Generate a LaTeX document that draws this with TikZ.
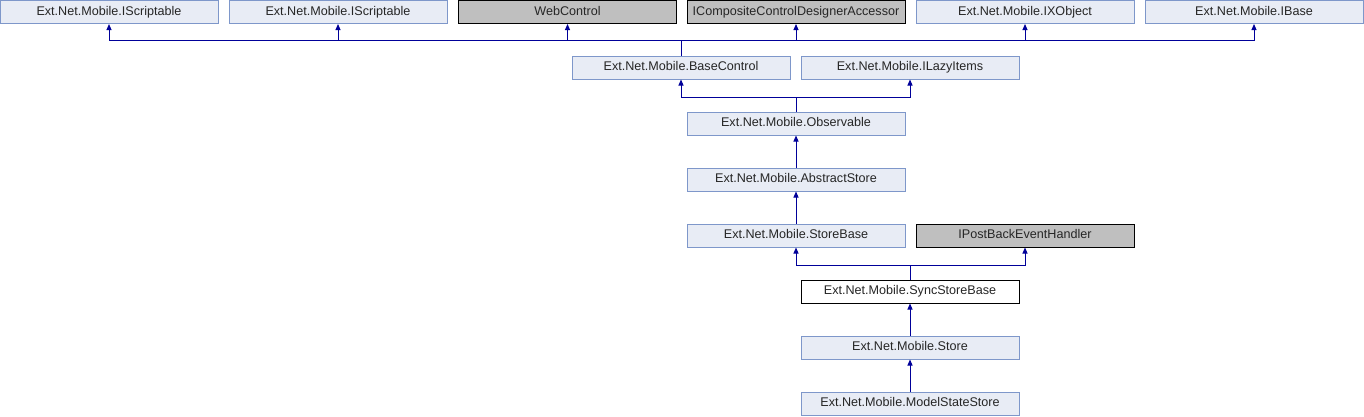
\documentclass[tikz,border=0pt]{standalone}
\usepackage{fontspec}
\setmainfont{Liberation Sans}
\usetikzlibrary{arrows.meta}
\definecolor{boxfill}{HTML}{E8ECF5}
\definecolor{boxedge}{HTML}{7E97CA}
\definecolor{grayfill}{HTML}{BFBFBF}
\definecolor{arrowcol}{HTML}{000099}
\begin{document}
\begin{tikzpicture}[x=1pt,y=-1pt,
  cls/.style={draw=boxedge,fill=boxfill,line width=1pt,minimum width=218pt,minimum height=23pt,inner sep=0pt,text height=9pt,text depth=2.5pt,font=\fontsize{12.6}{14}\selectfont,text=black!85},
  ext/.style={cls,draw=black,fill=grayfill},
  cur/.style={cls,draw=black,fill=white},
  conn/.style={draw=arrowcol,line width=1pt},
  arr/.style={conn,-{Triangle[length=6pt,width=5pt]}}]
\useasboundingbox (0,0) rectangle (1364,416);
% top row
\node[cls] (s1) at (109,12) {Ext.Net.Mobile.IScriptable};
\node[cls] (s2) at (338,12) {Ext.Net.Mobile.IScriptable};
\node[ext] (wc) at (567.5,12) {WebControl};
\node[ext] (icc) at (796,12) {ICompositeControlDesignerAccessor};
\node[cls] (ixo) at (1025,12) {Ext.Net.Mobile.IXObject};
\node[cls] (ib) at (1254,12) {Ext.Net.Mobile.IBase};
% second row
\node[cls] (bc) at (681,67.5) {Ext.Net.Mobile.BaseControl};
\node[cls] (li) at (910,67.5) {Ext.Net.Mobile.ILazyItems};
\node[cls] (obs) at (796,123.5) {Ext.Net.Mobile.Observable};
\node[cls] (abs) at (796,179.5) {Ext.Net.Mobile.AbstractStore};
\node[cls] (sb) at (796,235.5) {Ext.Net.Mobile.StoreBase};
\node[ext] (pb) at (1025,235.5) {IPostBackEventHandler};
\node[cur] (ssb) at (910,291.5) {Ext.Net.Mobile.SyncStoreBase};
\node[cls] (st) at (910,347.5) {Ext.Net.Mobile.Store};
\node[cls] (mss) at (910,403.5) {Ext.Net.Mobile.ModelStateStore};
% junctions
\coordinate (j1) at (681,40);
\coordinate (j2) at (796,97);
\coordinate (j3) at (910,265);
% connectors
\draw[conn] (bc.north) -- (j1);
\foreach \p in {s1,s2,wc,icc,ixo,ib} \draw[arr] (j1) -| (\p.south);
\draw[conn] (obs.north) -- (j2);
\draw[arr] (j2) -| (bc.south);
\draw[arr] (j2) -| (li.south);
\draw[arr] (abs.north) -- (obs.south);
\draw[arr] (sb.north) -- (abs.south);
\draw[conn] (ssb.north) -- (j3);
\draw[arr] (j3) -| (sb.south);
\draw[arr] (j3) -| (pb.south);
\draw[arr] (st.north) -- (ssb.south);
\draw[arr] (mss.north) -- (st.south);
\end{tikzpicture}
\end{document}
